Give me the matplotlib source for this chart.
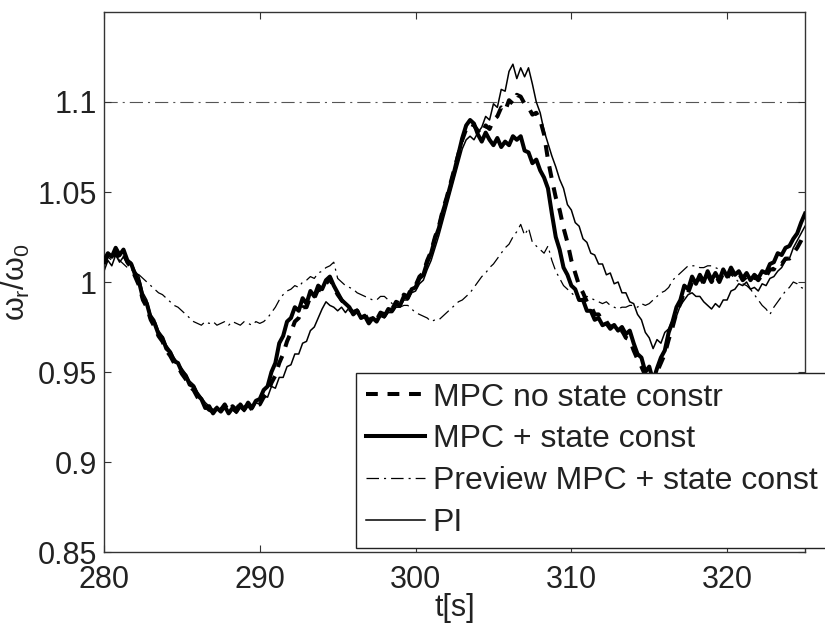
import numpy as np
import matplotlib
matplotlib.use("Agg")
import matplotlib.pyplot as plt

# ---------------- data (t = 280 ... 325 s, step 0.25 s) ----------------
t_start = 280.0
t_step = 0.25

mpc_no_state = [
    1.010, 1.015, 1.012, 1.017, 1.013, 1.016, 1.011, 1.008,
    1.003, 0.998, 0.990, 0.986, 0.979, 0.975, 0.970, 0.967,
    0.962, 0.959, 0.955, 0.953, 0.949, 0.946, 0.942, 0.940,
    0.936, 0.933, 0.931, 0.929, 0.928, 0.931, 0.929, 0.932,
    0.928, 0.931, 0.929, 0.933, 0.930, 0.932, 0.929, 0.932,
    0.932, 0.936, 0.938, 0.944, 0.948, 0.955, 0.960, 0.967,
    0.972, 0.978, 0.980, 0.986, 0.986, 0.992, 0.991, 0.996,
    0.995, 0.999, 1.002, 0.997, 0.993, 0.990, 0.987, 0.985,
    0.983, 0.984, 0.981, 0.982, 0.978, 0.981, 0.979, 0.983,
    0.982, 0.986, 0.985, 0.989, 0.988, 0.993, 0.992, 0.997,
    0.998, 1.003, 1.005, 1.012, 1.017, 1.025, 1.031, 1.040,
    1.047, 1.055, 1.063, 1.071, 1.079, 1.085, 1.088, 1.087,
    1.084, 1.082, 1.087, 1.085, 1.090, 1.092, 1.097, 1.095,
    1.101, 1.099, 1.104, 1.103, 1.099, 1.097, 1.093, 1.094,
    1.090, 1.082, 1.068, 1.057, 1.047, 1.040, 1.030, 1.022,
    1.012, 1.005, 0.998, 0.994, 0.989, 0.987, 0.982, 0.982,
    0.978, 0.978, 0.975, 0.976, 0.972, 0.973, 0.969, 0.968,
    0.962, 0.957, 0.953, 0.948, 0.950, 0.944, 0.950, 0.955,
    0.960, 0.968, 0.975, 0.983, 0.988, 0.995, 0.994, 1.000,
    0.998, 1.003, 0.999, 1.004, 1.000, 1.004, 1.000, 1.005,
    1.002, 1.006, 1.003, 1.005, 1.001, 1.003, 1.000, 1.003,
    1.001, 1.004, 1.003, 1.007, 1.007, 1.011, 1.010, 1.013,
    1.013, 1.016, 1.019, 1.023, 1.028,
]

mpc_state = [
    1.012, 1.016, 1.014, 1.019, 1.015, 1.018, 1.012, 1.010,
    1.004, 1.000, 0.991, 0.988, 0.980, 0.977, 0.971, 0.969,
    0.963, 0.961, 0.956, 0.955, 0.950, 0.948, 0.943, 0.942,
    0.937, 0.935, 0.930, 0.931, 0.927, 0.930, 0.928, 0.931,
    0.927, 0.930, 0.928, 0.932, 0.929, 0.933, 0.930, 0.934,
    0.935, 0.940, 0.942, 0.950, 0.955, 0.966, 0.970, 0.978,
    0.980, 0.986, 0.984, 0.991, 0.988, 0.995, 0.992, 0.998,
    0.996, 1.001, 1.003, 0.998, 0.994, 0.990, 0.988, 0.986,
    0.982, 0.984, 0.980, 0.981, 0.977, 0.980, 0.978, 0.982,
    0.981, 0.985, 0.984, 0.988, 0.987, 0.992, 0.991, 0.996,
    0.997, 1.002, 1.004, 1.011, 1.016, 1.024, 1.030, 1.039,
    1.046, 1.054, 1.062, 1.071, 1.080, 1.087, 1.090, 1.088,
    1.082, 1.078, 1.083, 1.079, 1.076, 1.080, 1.075, 1.078,
    1.076, 1.081, 1.079, 1.081, 1.073, 1.072, 1.066, 1.068,
    1.062, 1.058, 1.052, 1.038, 1.025, 1.018, 1.008, 1.004,
    0.998, 0.996, 0.990, 0.990, 0.984, 0.984, 0.979, 0.980,
    0.976, 0.977, 0.974, 0.976, 0.973, 0.975, 0.971, 0.973,
    0.966, 0.960, 0.958, 0.950, 0.953, 0.945, 0.952, 0.958,
    0.962, 0.972, 0.978, 0.986, 0.990, 0.998, 0.996, 1.003,
    0.999, 1.004, 1.000, 1.006, 1.001, 1.005, 1.001, 1.007,
    1.003, 1.008, 1.004, 1.006, 1.002, 1.005, 1.001, 1.004,
    1.002, 1.006, 1.005, 1.010, 1.011, 1.016, 1.015, 1.019,
    1.020, 1.024, 1.027, 1.033, 1.038,
]

preview_mpc = [
    1.010, 1.014, 1.012, 1.015, 1.012, 1.010, 1.008, 1.007,
    1.005, 1.004, 1.002, 1.000, 0.998, 0.996, 0.994, 0.993,
    0.991, 0.989, 0.987, 0.986, 0.984, 0.982, 0.980, 0.978,
    0.977, 0.976, 0.978, 0.977, 0.978, 0.976, 0.977, 0.978,
    0.976, 0.978, 0.977, 0.976, 0.978, 0.977, 0.976, 0.978,
    0.977, 0.978, 0.980, 0.983, 0.986, 0.990, 0.993, 0.995,
    0.996, 0.998, 0.997, 1.000, 1.001, 1.003, 1.002, 1.005,
    1.006, 1.008, 1.009, 1.011, 1.002, 1.000, 0.998, 0.997,
    0.996, 0.994, 0.993, 0.992, 0.991, 0.990, 0.990, 0.992,
    0.992, 0.990, 0.988, 0.987, 0.986, 0.987, 0.987, 0.985,
    0.983, 0.982, 0.981, 0.980, 0.978, 0.979, 0.979, 0.981,
    0.983, 0.985, 0.987, 0.989, 0.990, 0.992, 0.994, 0.997,
    1.000, 1.003, 1.005, 1.008, 1.010, 1.013, 1.016, 1.019,
    1.021, 1.025, 1.028, 1.032, 1.026, 1.030, 1.022, 1.020,
    1.018, 1.016, 1.020, 1.012, 1.006, 1.002, 0.998, 0.996,
    0.994, 0.992, 0.990, 0.991, 0.992, 0.991, 0.990, 0.989,
    0.988, 0.989, 0.987, 0.986, 0.985, 0.986, 0.986, 0.987,
    0.987, 0.986, 0.988, 0.987, 0.988, 0.990, 0.992, 0.994,
    0.995, 0.997, 1.001, 1.003, 1.005, 1.007, 1.009, 1.009,
    1.009, 1.008, 1.008, 1.009, 1.009, 1.008, 1.007, 1.006,
    1.005, 1.004, 1.002, 1.000, 0.999, 0.998, 0.996, 0.993,
    0.990, 0.987, 0.985, 0.982, 0.986, 0.989, 0.992, 0.995,
    0.997, 1.000, 0.999, 0.997, 0.996,
]

pi_ctrl = [
    1.006, 1.012, 1.009, 1.015, 1.011, 1.014, 1.010, 1.011,
    1.006, 1.003, 0.994, 0.990, 0.982, 0.979, 0.973, 0.970,
    0.965, 0.962, 0.958, 0.955, 0.952, 0.949, 0.945, 0.943,
    0.939, 0.936, 0.933, 0.931, 0.929, 0.931, 0.928, 0.930,
    0.927, 0.929, 0.927, 0.930, 0.928, 0.931, 0.929, 0.933,
    0.932, 0.937, 0.936, 0.942, 0.941, 0.947, 0.947, 0.953,
    0.954, 0.960, 0.960, 0.966, 0.967, 0.973, 0.975, 0.980,
    0.985, 0.989, 0.987, 0.986, 0.984, 0.986, 0.983, 0.986,
    0.984, 0.985, 0.981, 0.982, 0.978, 0.980, 0.978, 0.981,
    0.980, 0.983, 0.983, 0.986, 0.986, 0.990, 0.990, 0.994,
    0.995, 0.999, 1.001, 1.007, 1.012, 1.019, 1.026, 1.034,
    1.042, 1.050, 1.058, 1.066, 1.074, 1.079, 1.081, 1.079,
    1.083, 1.086, 1.092, 1.090, 1.099, 1.097, 1.107, 1.106,
    1.117, 1.121, 1.113, 1.119, 1.114, 1.119, 1.110, 1.100,
    1.094, 1.084, 1.077, 1.070, 1.064, 1.057, 1.052, 1.043,
    1.040, 1.033, 1.031, 1.024, 1.022, 1.016, 1.015, 1.010,
    1.010, 1.004, 1.005, 0.999, 1.000, 0.994, 0.994, 0.989,
    0.988, 0.982, 0.979, 0.972, 0.969, 0.963, 0.968, 0.966,
    0.972, 0.974, 0.979, 0.981, 0.987, 0.990, 0.993, 0.994,
    0.992, 0.992, 0.989, 0.987, 0.985, 0.988, 0.986, 0.990,
    0.990, 0.995, 0.996, 0.999, 0.998, 1.000, 0.996, 0.997,
    0.995, 0.999, 0.998, 1.002, 1.003, 1.006, 1.008, 1.012,
    1.013, 1.019, 1.023, 1.027, 1.031,
]

limit_value = 1.1
series_labels = ["MPC no state constr", "MPC + state const",
                 "Preview MPC + state const", "PI"]
x_ticks = [280, 290, 300, 310, 320]
y_ticks = [0.85, 0.9, 0.95, 1.0, 1.05, 1.1]
y_tick_labels = ["0.85", "0.9", "0.95", "1", "1.05", "1.1"]


def tgrid(vals):
    return t_start + t_step * np.arange(len(vals))


# ---------------- styling ----------------
plt.rcParams["font.family"] = ["Liberation Sans", "DejaVu Sans"]
plt.rcParams["mathtext.fontset"] = "custom"
plt.rcParams["mathtext.rm"] = "Liberation Sans"
plt.rcParams["mathtext.it"] = "Liberation Sans"
plt.rcParams["lines.scale_dashes"] = False

txt_col = "#222222"
fs = 22
fs_leg = 23

fig = plt.figure(figsize=(8.25, 6.27), dpi=100)
ax = fig.add_axes([104 / 825, 1 - 552 / 627, 701 / 825, 540 / 627])

ax.axhline(limit_value, color="#555555", lw=0.8,
           dashes=(9.5, 3.6, 1.5, 3.6), zorder=1)

l1, = ax.plot(tgrid(mpc_no_state), mpc_no_state, color="black", lw=2.9,
              dashes=(8.5, 7.0), label=series_labels[0], zorder=3)
l2, = ax.plot(tgrid(mpc_state), mpc_state, color="black", lw=2.9,
              label=series_labels[1], zorder=4)
l3, = ax.plot(tgrid(preview_mpc), preview_mpc, color="black", lw=0.9,
              dashes=(9.0, 3.6, 1.5, 3.6), label=series_labels[2], zorder=2)
l4, = ax.plot(tgrid(pi_ctrl), pi_ctrl, color="black", lw=1.1,
              label=series_labels[3], zorder=2)

ax.set_xlim(280, 325)
ax.set_ylim(0.85, 1.15)
ax.set_xticks(x_ticks)
ax.set_yticks(y_ticks)
ax.set_yticklabels(y_tick_labels)
ax.tick_params(direction="in", length=5, width=0.8, colors="#333333",
               labelcolor=txt_col, labelsize=fs, top=True, right=True)
ax.tick_params(axis="x", pad=9)
ax.tick_params(axis="y", pad=5)
for s in ax.spines.values():
    s.set_color("#333333")
    s.set_linewidth(1.0)

ax.set_xlabel("t[s]", fontsize=fs, color=txt_col, labelpad=-1)
ax.set_ylabel(r"$\omega_r/\omega_0$", fontsize=fs, color=txt_col, labelpad=4)

# legend box runs past the right edge of the figure, as in the reference
leg = fig.legend(handles=[l1, l2, l3, l4], loc="upper left", mode="expand",
                 bbox_to_anchor=(356 / 825, 1 - 548 / 627, 500 / 825, 175 / 627),
                 bbox_transform=fig.transFigure, borderaxespad=0,
                 fontsize=fs_leg, frameon=True, fancybox=False, shadow=False,
                 handlelength=1.85, handletextpad=0.25, labelspacing=0.37,
                 borderpad=0.3, labelcolor=txt_col)
leg.get_frame().set_edgecolor("#222222")
leg.get_frame().set_linewidth(1.0)
leg.get_frame().set_alpha(1.0)

fig.savefig("out.png", dpi=100)
